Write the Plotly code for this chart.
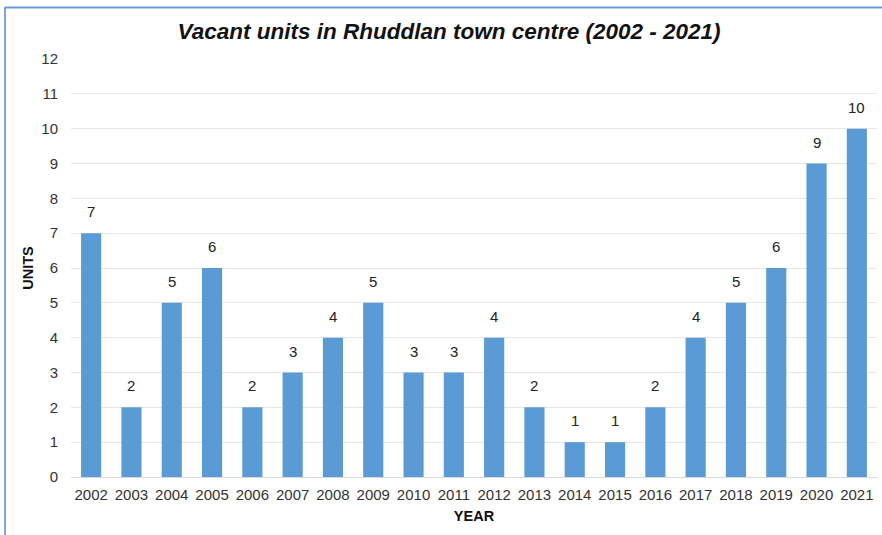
import plotly.graph_objects as go

years = [str(y) for y in range(2002, 2022)]
units = [7, 2, 5, 6, 2, 3, 4, 5, 3, 3, 4, 2, 1, 1, 2, 4, 5, 6, 9, 10]
y_ticks = list(range(0, 13))

L, R, T, B = 71, 5, 59, 58
W, H = 882, 535
pw, ph = W - L - R, H - T - B

def px_x(p):
    return (p - L) / pw

def px_y(p):
    return (H - B - p) / ph

fig = go.Figure(go.Bar(
    x=years, y=units,
    marker=dict(color="#5b9bd5", line=dict(width=0)),
    hoverinfo="x+y",
))

# category axis: annotation x given as category index
annotations = [
    dict(x=i, y=v, xref="x", yref="y", text=str(v), showarrow=False,
         yanchor="bottom", yshift=11,
         font=dict(family="Liberation Sans, Arial", size=15, color="#222"))
    for i, v in enumerate(units)
]

fig.update_layout(
    width=W, height=H,
    margin=dict(l=L, r=R, t=T, b=B),
    paper_bgcolor="white", plot_bgcolor="white",
    bargap=0.5,
    showlegend=False,
    font=dict(family="Liberation Sans, Arial", size=15, color="#333"),
    title=dict(
        text="<b><i>Vacant units in Rhuddlan town centre (2002 - 2021)</i></b>",
        x=449 / W, xanchor="center", y=1 - 31 / H, yanchor="middle",
        font=dict(family="Liberation Sans, Arial", size=22.5, color="#111"),
    ),
    xaxis=dict(
        type="category", categoryorder="array", categoryarray=years,
        range=[-0.5, len(years) - 0.5],
        showgrid=False, ticks="", tickfont=dict(size=15, color="#333"),
        ticklabelstandoff=7,
        title=dict(text="<b>YEAR</b>", font=dict(size=14.5, color="#111"), standoff=8),
        showline=False,
    ),
    yaxis=dict(
        range=[0, 12], tickvals=y_ticks, showgrid=True, gridcolor="#e6e6e6",
        zeroline=True, zerolinecolor="#d9d9d9", zerolinewidth=1,
        tickfont=dict(size=15, color="#333"), ticks="",
        ticklabelstandoff=12,
        title=dict(text="<b>UNITS</b>", font=dict(size=14.5, color="#111"), standoff=4),
    ),
    annotations=annotations,
    shapes=[
        dict(type="line", xref="paper", yref="paper",
             x0=px_x(5), x1=px_x(5), y0=px_y(7), y1=px_y(535),
             line=dict(color="#7aa7dc", width=2)),
        dict(type="line", xref="paper", yref="paper",
             x0=px_x(5), x1=px_x(882), y0=px_y(7.5), y1=px_y(7.5),
             line=dict(color="#6a9bd6", width=2)),
    ],
)

fig.write_html("out.html", config={"displayModeBar": False},
               post_script="document.body.style.margin='0';")
